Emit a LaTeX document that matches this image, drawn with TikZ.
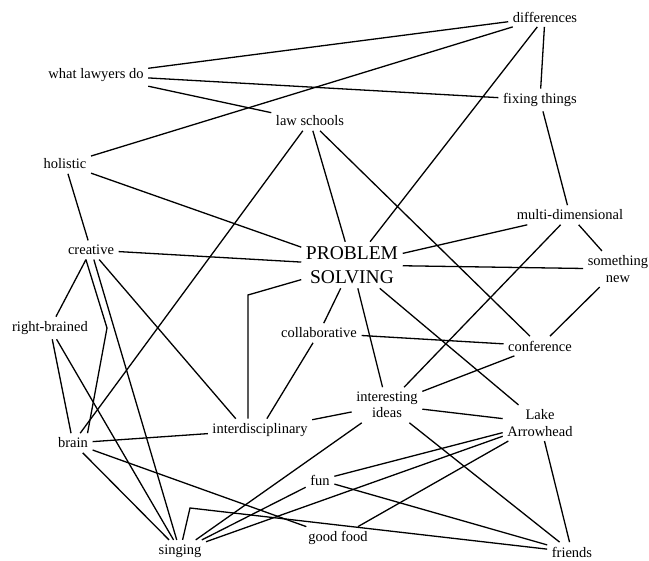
\documentclass[tikz,border=0pt]{standalone}
\usepackage{fontspec}
\setmainfont{Liberation Serif}
\begin{document}
\begin{tikzpicture}[x=1pt,y=-1pt,
  lbl/.style={font=\fontsize{14.5}{16.5}\selectfont, inner sep=4.5pt, align=center},
  big/.style={font=\fontsize{19.5}{24}\selectfont, inner sep=4.5pt, align=center},
  link/.style={draw=black, line width=1.3pt}]
\useasboundingbox[fill=white] (0,0) rectangle (649,561);
\node[lbl] (dif) at (545,17) {differences};
\node[lbl] (wld) at (96,75) {what lawyers do};
\node[lbl] (fix) at (540,100) {fixing things};
\node[lbl] (law) at (310,121) {law schools};
\node[lbl] (hol) at (65,164) {holistic};
\node[lbl] (multi) at (570,215) {multi-dimensional};
\node[lbl] (cre) at (91,250) {creative};
\node[big] (ps) at (352,265) {PROBLEM\\SOLVING};
\node[lbl] (new) at (618,269) {something\\new};
\node[lbl] (rb) at (50,328) {right-brained};
\node[lbl] (col) at (319,333) {collaborative};
\node[lbl] (conf) at (540,346) {conference};
\node[lbl] (ii) at (387,405) {interesting\\ideas};
\node[lbl] (lake) at (540,423) {Lake\\Arrowhead};
\node[lbl] (inter) at (260,430) {interdisciplinary};
\node[lbl] (brain) at (73,443) {brain};
\node[lbl] (fun) at (320,480) {fun};
\node[lbl] (food) at (338,538) {good food};
\node[lbl] (sing) at (180,551) {singing};
\node[lbl] (fri) at (572,552) {friends};
\coordinate (bA) at (248,295);
\coordinate (bB) at (107,328);
\coordinate (bC) at (190,508);
% edges
\draw[link] (wld) -- (dif);
\draw[link] (wld) -- (fix);
\draw[link] (wld) -- (law);
\draw[link] (hol) -- (dif);
\draw[link] (hol) -- (cre);
\draw[link] (hol) -- (ps);
\draw[link] (law) -- (ps);
\draw[link] (law) -- (brain);
\draw[link] (law) -- (conf);
\draw[link] (dif) -- (fix);
\draw[link] (dif) -- (ps);
\draw[link] (fix) -- (multi);
\draw[link] (multi) -- (ps);
\draw[link] (multi) -- (new);
\draw[link] (multi) -- (ii);
\draw[link] (new) -- (ps);
\draw[link] (new) -- (conf);
\draw[link] (cre) -- (ps);
\draw[link] (cre) -- (rb);
\draw[link] (cre.242) -- (bB) -- (brain.34);
\draw[link] (cre) -- (sing);
\draw[link] (cre) -- (inter.155);
\draw[link] (ps) -- (bA) -- (bA |- inter.north);
\draw[link] (ps) -- (col);
\draw[link] (ps) -- (ii);
\draw[link] (ps) -- (lake);
\draw[link] (col) -- (conf);
\draw[link] (col) -- (inter);
\draw[link] (conf) -- (ii);
\draw[link] (ii) -- (inter);
\draw[link] (ii) -- (lake);
\draw[link] (ii) -- (fri);
\draw[link] (ii) -- (sing);
\draw[link] (rb) -- (brain);
\draw[link] (rb) -- (sing);
\draw[link] (brain) -- (inter);
\draw[link] (brain) -- (sing);
\draw[link] (brain) -- (food);
\draw[link] (fun) -- (lake);
\draw[link] (fun) -- (fri);
\draw[link] (fun) -- (sing);
\draw[link] (food) -- (lake);
\draw[link] (sing) -- (lake);
\draw[link] (sing) -- (bC) -- (fri);
\draw[link] (lake) -- (fri);
\end{tikzpicture}
\end{document}
